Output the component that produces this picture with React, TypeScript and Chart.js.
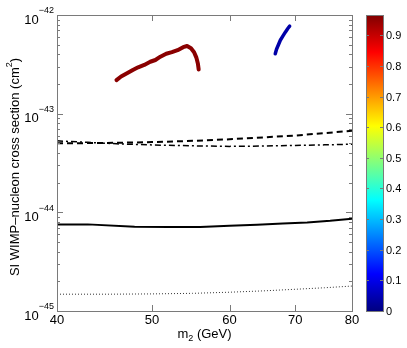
import React, { useEffect, useRef } from "react";
import { Chart, registerables } from "chart.js";

Chart.register(...registerables);

// ---- data ----
const xTicks = [40, 50, 60, 70, 80];
const yDecades = [-42, -43, -44, -45];
const cbTicks = [0, 0.1, 0.2, 0.3, 0.4, 0.5, 0.6, 0.7, 0.8, 0.9];
const cbMax = 0.966;

const dashedMass = [40, 45, 50, 55, 60, 65, 70, 75, 80];
const dashedSigma = [5.0e-44, 5.05e-44, 5.15e-44, 5.3e-44, 5.5e-44, 5.75e-44, 6.0e-44, 6.35e-44, 6.7e-44];

const dashDotMass = [40, 43, 46, 50, 55, 60, 65, 70, 75, 80];
const dashDotSigma = [5.3e-44, 5.12e-44, 4.95e-44, 4.82e-44, 4.72e-44, 4.66e-44, 4.7e-44, 4.77e-44, 4.83e-44, 4.9e-44];

const solidMass = [40, 43, 48, 52, 56, 60, 64, 68, 72, 76, 80];
const solidSigma = [7.55e-45, 7.55e-45, 7.15e-45, 7.1e-45, 7.12e-45, 7.3e-45, 7.5e-45, 7.7e-45, 7.9e-45, 8.2e-45, 8.6e-45];

const dottedMass = [40, 45, 50, 55, 60, 65, 70, 75, 80];
const dottedSigma = [1.48e-45, 1.48e-45, 1.49e-45, 1.51e-45, 1.55e-45, 1.6e-45, 1.66e-45, 1.72e-45, 1.79e-45];

const redMass = [46.0, 46.5, 47.2, 47.8, 48.4, 49.1, 49.8, 50.4, 51.0, 51.7, 52.4, 53.1, 53.8, 54.3, 54.8, 55.2, 55.5, 55.7, 55.8];
const redSigma = [2.19e-43, 2.38e-43, 2.58e-43, 2.77e-43, 2.95e-43, 3.12e-43, 3.36e-43, 3.5e-43, 3.78e-43, 4.05e-43, 4.2e-43, 4.4e-43, 4.72e-43, 4.85e-43, 4.6e-43, 4.2e-43, 3.7e-43, 3.2e-43, 2.8e-43];
const redValue = 0.99;

const blueMass = [66.8, 67.0, 67.3, 67.6, 68.0, 68.4, 68.8, 69.1];
const blueSigma = [4.05e-43, 4.5e-43, 5.0e-43, 5.55e-43, 6.1e-43, 6.7e-43, 7.3e-43, 7.7e-43];
const blueValue = 0.04;

// ---- helpers ----
const jetStops: [number, [number, number, number]][] = [
  [0, [0, 0, 0.5]],
  [0.125, [0, 0, 1]],
  [0.375, [0, 1, 1]],
  [0.625, [1, 1, 0]],
  [0.875, [1, 0, 0]],
  [1, [0.5, 0, 0]],
];
function jet(t: number): string {
  t = Math.max(0, Math.min(1, t));
  for (let i = 1; i < jetStops.length; i++) {
    const [t1, c1] = jetStops[i];
    const [t0, c0] = jetStops[i - 1];
    if (t <= t1) {
      const f = (t - t0) / (t1 - t0);
      const c = c0.map((v, k) => Math.round(255 * (v + (c1[k] - v) * f)));
      return `rgb(${c[0]},${c[1]},${c[2]})`;
    }
  }
  return "rgb(128,0,0)";
}

const pts = (xs: number[], ys: number[]) => xs.map((x, i) => ({ x, y: ys[i] }));

const FONT = '"Liberation Sans", Arial, Helvetica, sans-serif';

const decorPlugin = {
  id: "decor",
  afterDraw(chart: any) {
    const ctx: CanvasRenderingContext2D = chart.ctx;
    const xs = chart.scales.x;
    const ys = chart.scales.y;
    const ca = chart.chartArea;
    ctx.save();
    const frame = "#7a7a7a";
    ctx.strokeStyle = frame;
    ctx.lineWidth = 1;
    ctx.strokeRect(Math.round(ca.left) + 0.5, Math.round(ca.top) + 0.5, Math.round(ca.right - ca.left), Math.round(ca.bottom - ca.top));
    ctx.beginPath();
    xTicks.forEach((t, i) => {
      if (i === 0 || i === xTicks.length - 1) return;
      const px = Math.round(xs.getPixelForValue(t)) + 0.5;
      ctx.moveTo(px, ca.bottom);
      ctx.lineTo(px, ca.bottom - 6);
      ctx.moveTo(px, ca.top);
      ctx.lineTo(px, ca.top + 6);
    });
    for (let d = -45; d < -42; d++) {
      for (let k = 1; k <= 9; k++) {
        const v = k * Math.pow(10, d);
        if (k === 1 && d === -45) continue;
        const py = Math.round(ys.getPixelForValue(v)) + 0.5;
        const len = k === 1 ? 6 : 3;
        ctx.moveTo(ca.left, py);
        ctx.lineTo(ca.left + len, py);
        ctx.moveTo(ca.right, py);
        ctx.lineTo(ca.right - len, py);
      }
    }
    ctx.stroke();

    ctx.fillStyle = "#000";
    ctx.textAlign = "center";
    ctx.textBaseline = "middle";
    ctx.font = `13px ${FONT}`;
    xTicks.forEach((t) => {
      ctx.fillText(String(t), xs.getPixelForValue(t), ca.bottom + 9);
    });
    yDecades.forEach((d) => {
      const py = ys.getPixelForValue(Math.pow(10, d));
      ctx.textAlign = "right";
      ctx.font = `9px ${FONT}`;
      const exp = "\u2212" + String(-d);
      const ew = ctx.measureText(exp).width;
      ctx.fillText(exp, ca.left - 3, py - 4);
      ctx.font = `13px ${FONT}`;
      ctx.fillText("10", ca.left - 3 - ew, py + 5);
    });
    {
      const cx = (ca.left + ca.right) / 2;
      const cy = 334;
      ctx.textAlign = "left";
      ctx.font = `13px ${FONT}`;
      const w1 = ctx.measureText("m").width;
      const w3 = ctx.measureText(" (GeV)").width;
      ctx.font = `9px ${FONT}`;
      const w2 = ctx.measureText("2").width;
      const x0 = cx - (w1 + w2 + w3) / 2;
      ctx.font = `13px ${FONT}`;
      ctx.fillText("m", x0, cy);
      ctx.font = `9px ${FONT}`;
      ctx.fillText("2", x0 + w1, cy + 5);
      ctx.font = `13px ${FONT}`;
      ctx.fillText(" (GeV)", x0 + w1 + w2, cy);
    }
    {
      ctx.save();
      ctx.translate(15, (ca.top + ca.bottom) / 2 + 4);
      ctx.rotate(-Math.PI / 2);
      const a = "SI WIMP\u2013nucleon cross section (cm";
      const b = "2";
      const c = ")";
      ctx.font = `13px ${FONT}`;
      const wa = ctx.measureText(a).width;
      const wc = ctx.measureText(c).width;
      ctx.font = `9px ${FONT}`;
      const wb = ctx.measureText(b).width;
      const x0 = -(wa + wb + wc) / 2;
      ctx.textAlign = "left";
      ctx.textBaseline = "middle";
      ctx.font = `13px ${FONT}`;
      ctx.fillText(a, x0, 0);
      ctx.font = `9px ${FONT}`;
      ctx.fillText(b, x0 + wa, -5);
      ctx.font = `13px ${FONT}`;
      ctx.fillText(c, x0 + wa + wb, 0);
      ctx.restore();
    }
    {
      const bx = 366, bw = 17, btop = ca.top, bbot = ca.bottom;
      const g = ctx.createLinearGradient(0, bbot, 0, btop);
      for (let i = 0; i <= 40; i++) g.addColorStop(i / 40, jet(i / 40));
      ctx.fillStyle = g;
      ctx.fillRect(bx, btop, bw, bbot - btop);
      ctx.strokeStyle = frame;
      ctx.strokeRect(bx + 0.5, Math.round(btop) + 0.5, bw, Math.round(bbot - btop));
      ctx.beginPath();
      ctx.fillStyle = "#000";
      ctx.font = `11px ${FONT}`;
      ctx.textAlign = "left";
      ctx.textBaseline = "middle";
      cbTicks.forEach((v) => {
        const py = Math.round(bbot - (v / cbMax) * (bbot - btop)) + 0.5;
        if (v > 0) {
          ctx.moveTo(bx, py);
          ctx.lineTo(bx + 3, py);
          ctx.moveTo(bx + bw, py);
          ctx.lineTo(bx + bw - 3, py);
        }
        ctx.fillText(String(v), bx + bw + 3, py);
      });
      ctx.stroke();
    }
    ctx.restore();
  },
};

export default function App() {
  const ref = useRef<HTMLCanvasElement | null>(null);
  useEffect(() => {
    document.body.style.margin = "0";
    const canvas = ref.current!;
    const chart = new Chart(canvas, {
      type: "line",
      data: {
        datasets: [
          { data: pts(dottedMass, dottedSigma), borderColor: "#333", borderWidth: 1, borderDash: [1, 2], pointRadius: 0 },
          { data: pts(solidMass, solidSigma), borderColor: "#000", borderWidth: 2, pointRadius: 0 },
          { data: pts(dashDotMass, dashDotSigma), borderColor: "#000", borderWidth: 1.5, borderDash: [6, 3, 2, 3], pointRadius: 0 },
          { data: pts(dashedMass, dashedSigma), borderColor: "#000", borderWidth: 2, borderDash: [6, 4], pointRadius: 0 },
          {
            data: pts(redMass, redSigma),
            borderColor: jet(redValue),
            borderWidth: 4,
            pointRadius: 0,
            borderJoinStyle: "round",
            borderCapStyle: "round",
          },
          {
            data: pts(blueMass, blueSigma),
            borderColor: jet(blueValue),
            borderWidth: 3.5,
            pointRadius: 0,
            borderJoinStyle: "round",
            borderCapStyle: "round",
          },
        ],
      },
      options: {
        animation: false,
        responsive: false,
        devicePixelRatio: 1,
        layout: { padding: { left: 57, right: 55, top: 15, bottom: 37 } },
        plugins: { legend: { display: false }, tooltip: { enabled: false } },
        scales: {
          x: { type: "logarithmic", min: 40, max: 80, display: false },
          y: { type: "logarithmic", min: 1e-45, max: 1e-42, display: false },
        },
      },
      plugins: [decorPlugin],
    } as any);
    return () => chart.destroy();
  }, []);
  return (
    <div style={{ width: 407, height: 348, background: "#fff" }}>
      <canvas ref={ref} width={407} height={348} style={{ display: "block" }} />
    </div>
  );
}
